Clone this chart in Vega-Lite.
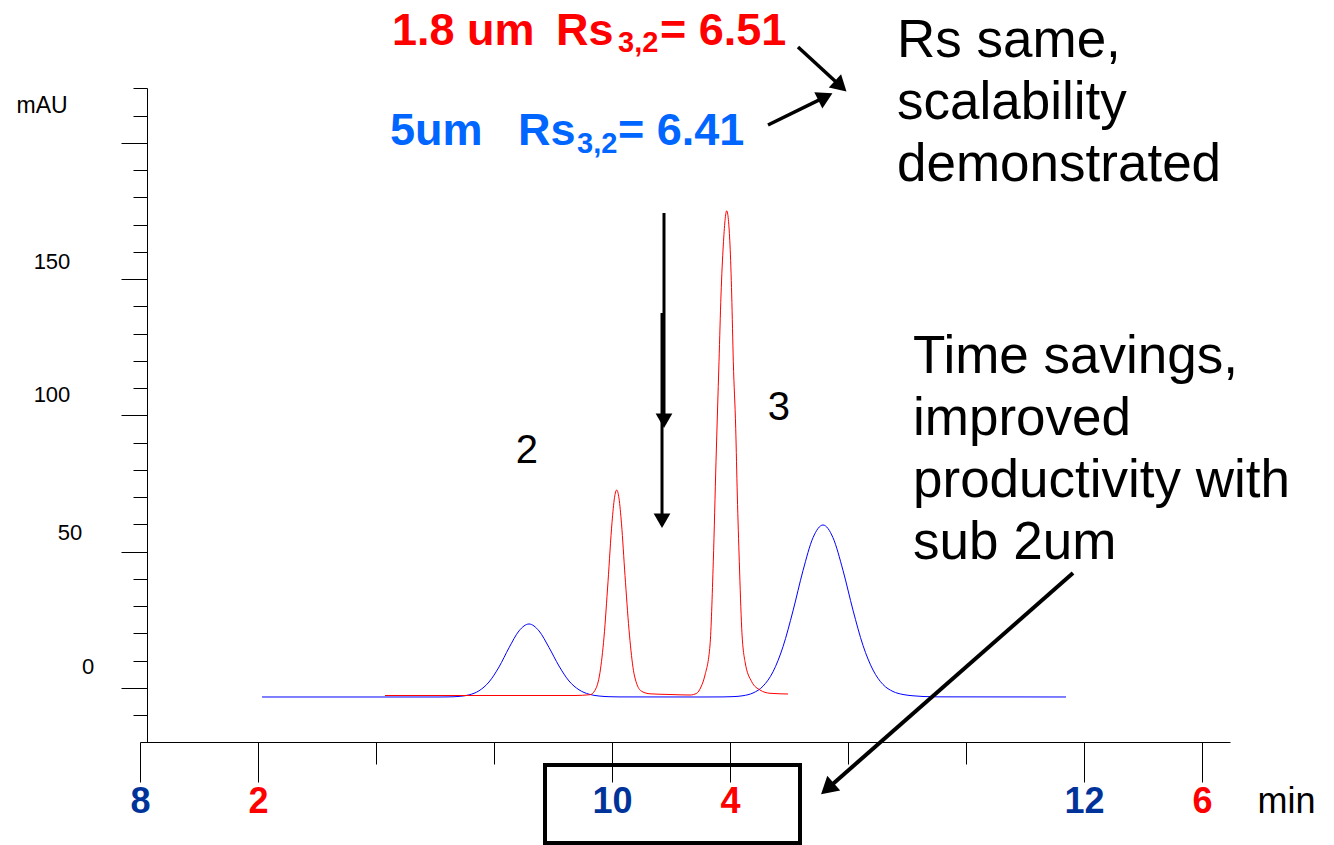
{
  "$schema": "https://vega.github.io/schema/vega-lite/v6.json",
  "width": 1090,
  "height": 654,
  "autosize": {"type": "none"},
  "padding": {"left": 140, "top": 88, "right": 104, "bottom": 103},
  "background": "white",
  "config": {"view": {"stroke": null}, "font": "Liberation Sans"},
  "datasets": {
    "traces": [
      {"trace": "5um", "t": 8.5169, "v": -3.30}, {"trace": "5um", "t": 9.2712, "v": -3.30}, {"trace": "5um", "t": 9.3093, "v": -3.26},
      {"trace": "5um", "t": 9.3517, "v": -3.09}, {"trace": "5um", "t": 9.3941, "v": -2.53}, {"trace": "5um", "t": 9.4364, "v": -1.03},
      {"trace": "5um", "t": 9.4788, "v": 2.20}, {"trace": "5um", "t": 9.5212, "v": 7.71}, {"trace": "5um", "t": 9.5636, "v": 14.75},
      {"trace": "5um", "t": 9.6059, "v": 20.95}, {"trace": "5um", "t": 9.6483, "v": 23.49}, {"trace": "5um", "t": 9.6907, "v": 20.95},
      {"trace": "5um", "t": 9.7331, "v": 14.86}, {"trace": "5um", "t": 9.7754, "v": 8.07}, {"trace": "5um", "t": 9.8178, "v": 2.57},
      {"trace": "5um", "t": 9.8602, "v": -0.66}, {"trace": "5um", "t": 9.9025, "v": -2.28}, {"trace": "5um", "t": 9.9449, "v": -2.94},
      {"trace": "5um", "t": 9.9873, "v": -3.19}, {"trace": "5um", "t": 10.0297, "v": -3.27}, {"trace": "5um", "t": 10.3729, "v": -3.30},
      {"trace": "5um", "t": 10.4703, "v": -3.27}, {"trace": "5um", "t": 10.5127, "v": -3.17}, {"trace": "5um", "t": 10.5551, "v": -2.83},
      {"trace": "5um", "t": 10.5975, "v": -1.83}, {"trace": "5um", "t": 10.6398, "v": 0.66}, {"trace": "5um", "t": 10.6822, "v": 5.94},
      {"trace": "5um", "t": 10.7246, "v": 15.16}, {"trace": "5um", "t": 10.7669, "v": 28.29}, {"trace": "5um", "t": 10.8093, "v": 43.08},
      {"trace": "5um", "t": 10.8517, "v": 55.16}, {"trace": "5um", "t": 10.8941, "v": 59.82}, {"trace": "5um", "t": 10.9364, "v": 55.16},
      {"trace": "5um", "t": 10.9788, "v": 43.16}, {"trace": "5um", "t": 11.0212, "v": 28.55}, {"trace": "5um", "t": 11.0636, "v": 15.60},
      {"trace": "5um", "t": 11.1059, "v": 6.61}, {"trace": "5um", "t": 11.1483, "v": 1.28}, {"trace": "5um", "t": 11.1907, "v": -1.28},
      {"trace": "5um", "t": 11.2331, "v": -2.39}, {"trace": "5um", "t": 11.2754, "v": -2.86}, {"trace": "5um", "t": 11.3178, "v": -3.12},
      {"trace": "5um", "t": 11.3814, "v": -3.25}, {"trace": "5um", "t": 11.9237, "v": -3.30},
      {"trace": "1.8um", "t": 9.0381, "v": -2.75}, {"trace": "1.8um", "t": 9.8432, "v": -2.75}, {"trace": "1.8um", "t": 9.9068, "v": -2.46},
      {"trace": "1.8um", "t": 9.9280, "v": -0.84}, {"trace": "1.8um", "t": 9.9492, "v": 5.76}, {"trace": "1.8um", "t": 9.9661, "v": 18.64},
      {"trace": "1.8um", "t": 9.9831, "v": 39.01}, {"trace": "1.8um", "t": 10.0000, "v": 60.70}, {"trace": "1.8um", "t": 10.0106, "v": 69.87},
      {"trace": "1.8um", "t": 10.0199, "v": 72.66}, {"trace": "1.8um", "t": 10.0297, "v": 69.58}, {"trace": "1.8um", "t": 10.0403, "v": 60.26},
      {"trace": "1.8um", "t": 10.0551, "v": 41.28}, {"trace": "1.8um", "t": 10.0720, "v": 21.47}, {"trace": "1.8um", "t": 10.0890, "v": 7.52},
      {"trace": "1.8um", "t": 10.1059, "v": 1.28}, {"trace": "1.8um", "t": 10.1271, "v": -1.28}, {"trace": "1.8um", "t": 10.1610, "v": -2.13},
      {"trace": "1.8um", "t": 10.2458, "v": -2.39}, {"trace": "1.8um", "t": 10.3305, "v": -2.57}, {"trace": "1.8um", "t": 10.3589, "v": -1.94},
      {"trace": "1.8um", "t": 10.3771, "v": 0.40}, {"trace": "1.8um", "t": 10.3941, "v": 4.77}, {"trace": "1.8um", "t": 10.4153, "v": 15.78},
      {"trace": "1.8um", "t": 10.4292, "v": 46.35}, {"trace": "1.8um", "t": 10.4407, "v": 83.05}, {"trace": "1.8um", "t": 10.4534, "v": 119.74},
      {"trace": "1.8um", "t": 10.4619, "v": 144.22}, {"trace": "1.8um", "t": 10.4716, "v": 162.57}, {"trace": "1.8um", "t": 10.4860, "v": 175.12},
      {"trace": "1.8um", "t": 10.5000, "v": 162.57}, {"trace": "1.8um", "t": 10.5072, "v": 144.22}, {"trace": "1.8um", "t": 10.5140, "v": 119.74},
      {"trace": "1.8um", "t": 10.5242, "v": 95.30}, {"trace": "1.8um", "t": 10.5309, "v": 70.83}, {"trace": "1.8um", "t": 10.5394, "v": 46.35},
      {"trace": "1.8um", "t": 10.5496, "v": 21.91}, {"trace": "1.8um", "t": 10.5636, "v": 9.65}, {"trace": "1.8um", "t": 10.5919, "v": 2.31},
      {"trace": "1.8um", "t": 10.6271, "v": -0.73}, {"trace": "1.8um", "t": 10.6695, "v": -1.94}, {"trace": "1.8um", "t": 10.7458, "v": -2.20}
    ],
    "ylab": [
      {"t": 7.7797, "v": 7.71, "text": "0"},
      {"t": 7.7034, "v": 56.88, "text": "50"},
      {"t": 7.6271, "v": 107.52, "text": "100"},
      {"t": 7.6271, "v": 156.33, "text": "150"}
    ],
    "notes": [
      {"role": "red", "t": 9.0678, "v": 235.96, "text": "1.8 um"},
      {"role": "red", "t": 9.7627, "v": 235.96, "text": "Rs"},
      {"role": "redsub", "t": 10.0254, "v": 233.39, "text": "3,2"},
      {"role": "red", "t": 10.2034, "v": 235.96, "text": "= 6.51"},
      {"role": "blue", "t": 9.0593, "v": 199.27, "text": "5um"},
      {"role": "blue", "t": 9.6017, "v": 199.27, "text": "Rs"},
      {"role": "bluesub", "t": 9.8517, "v": 196.33, "text": "3,2"},
      {"role": "blue", "t": 10.0254, "v": 199.27, "text": "= 6.41"},
      {"role": "big", "t": 11.2076, "v": 231.56, "text": "Rs same,\nscalability\ndemonstrated"},
      {"role": "big", "t": 11.2754, "v": 115.60, "text": "Time savings,\nimproved\nproductivity with\nsub 2um"},
      {"role": "peak", "t": 9.6398, "v": 82.57, "text": "2"},
      {"role": "peak", "t": 10.7076, "v": 98.35, "text": "3"}
    ],
    "arrows": [
      {"kind": "medium", "t1": 10.7881, "v1": 235.23, "t2": 10.9691, "v2": 220.84, "angle": 132.6},
      {"kind": "medium", "t1": 10.6610, "v1": 206.61, "t2": 10.9042, "v2": 216.95, "angle": 63.8},
      {"kind": "small", "t1": 10.2203, "v1": 174.31, "t2": 10.2203, "v2": 98.06, "angle": 180},
      {"kind": "small", "t1": 10.2119, "v1": 137.61, "t2": 10.2119, "v2": 61.36, "angle": 180},
      {"kind": "large", "t1": 11.9534, "v1": 42.20, "t2": 10.9127, "v2": -36.97, "angle": 228.7}
    ],
    "box": [
      {"t1": 9.7161, "t2": 10.7966, "v1": -28.26, "v2": -56.88}
    ]
  },
  "layer": [
    {
      "data": {"name": "traces"},
      "transform": [{"filter": "datum.trace === '5um'"}],
      "mark": {"type": "line", "color": "#0000FF", "strokeWidth": 1, "interpolate": "monotone"},
      "encoding": {
        "x": {
          "field": "t", "type": "quantitative",
          "scale": {"domain": [8, 12.6186], "nice": false, "zero": false},
          "axis": {
            "values": [8, 8.5, 9, 9.5, 10, 10.5, 11, 11.5, 12, 12.5],
            "tickCount": 100,
            "grid": false,
            "domainColor": "black", "domainWidth": 1,
            "tickColor": "black", "tickWidth": 1,
            "tickSize": {"condition": {"test": "indexof([8, 8.5, 10, 10.5, 12, 12.5], datum.value) >= 0", "value": 40}, "value": 22},
            "labelExpr": "datum.value % 1 === 0 ? (datum.value % 2 === 0 ? format(datum.value, 'd') : '') : ((datum.value - 6.5) % 2 === 0 ? format(datum.value - 6.5, 'd') : '')",
            "labelColor": {"condition": {"test": "datum.value % 1 === 0", "value": "#003399"}, "value": "#FF0000"},
            "labelFont": "Liberation Sans", "labelFontSize": 36, "labelFontWeight": "bold",
            "labelPadding": 30, "labelBaseline": "alphabetic",
            "labelOverlap": false, "labelFlush": false, "labelBound": false,
            "title": "min", "titleFont": "Liberation Sans", "titleFontSize": 36, "titleFontWeight": "normal", "titleColor": "black",
            "titleX": 1117, "titleY": 70, "titleAlign": "left", "titleBaseline": "alphabetic", "titleAnchor": null
          }
        },
        "y": {
          "field": "v", "type": "quantitative",
          "scale": {"domain": [-19.817, 220.183], "nice": false, "zero": false},
          "axis": {
            "values": [-10, 0, 10, 20, 30, 40, 50, 60, 70, 80, 90, 100, 110, 120, 130, 140, 150, 160, 170, 180, 190, 200, 210, 220],
            "tickCount": 100,
            "offset": -7,
            "grid": false,
            "labels": false,
            "domainColor": "black", "domainWidth": 1,
            "tickColor": "black", "tickWidth": 1,
            "tickSize": {"condition": {"test": "datum.value % 50 === 0", "value": 26}, "value": 14},
            "title": "mAU", "titleAngle": 0, "titleFont": "Liberation Sans", "titleFontSize": 23, "titleFontWeight": "normal", "titleColor": "black",
            "titleX": -131, "titleY": 24, "titleAlign": "left", "titleBaseline": "alphabetic", "titleAnchor": null
          }
        }
      }
    },
    {
      "data": {"name": "traces"},
      "transform": [{"filter": "datum.trace === '1.8um'"}],
      "mark": {"type": "line", "color": "#FF0000", "strokeWidth": 1, "interpolate": "monotone"},
      "encoding": {
        "x": {"field": "t", "type": "quantitative"},
        "y": {"field": "v", "type": "quantitative"}
      }
    },
    {
      "data": {"name": "ylab"},
      "mark": {"type": "text", "font": "Liberation Sans", "fontSize": 22, "color": "black", "align": "center", "baseline": "middle"},
      "encoding": {
        "x": {"field": "t", "type": "quantitative"},
        "y": {"field": "v", "type": "quantitative"},
        "text": {"field": "text"}
      }
    },
    {
      "data": {"name": "notes"},
      "transform": [{"filter": "datum.role === 'red'"}],
      "mark": {"type": "text", "font": "Liberation Sans", "fontSize": 45, "fontWeight": "bold", "color": "#FF0000", "align": "left", "baseline": "alphabetic"},
      "encoding": {
        "x": {"field": "t", "type": "quantitative"},
        "y": {"field": "v", "type": "quantitative"},
        "text": {"field": "text"}
      }
    },
    {
      "data": {"name": "notes"},
      "transform": [{"filter": "datum.role === 'redsub'"}],
      "mark": {"type": "text", "font": "Liberation Sans", "fontSize": 29, "fontWeight": "bold", "color": "#FF0000", "align": "left", "baseline": "alphabetic"},
      "encoding": {
        "x": {"field": "t", "type": "quantitative"},
        "y": {"field": "v", "type": "quantitative"},
        "text": {"field": "text"}
      }
    },
    {
      "data": {"name": "notes"},
      "transform": [{"filter": "datum.role === 'blue'"}],
      "mark": {"type": "text", "font": "Liberation Sans", "fontSize": 45, "fontWeight": "bold", "color": "#0066FF", "align": "left", "baseline": "alphabetic"},
      "encoding": {
        "x": {"field": "t", "type": "quantitative"},
        "y": {"field": "v", "type": "quantitative"},
        "text": {"field": "text"}
      }
    },
    {
      "data": {"name": "notes"},
      "transform": [{"filter": "datum.role === 'bluesub'"}],
      "mark": {"type": "text", "font": "Liberation Sans", "fontSize": 29, "fontWeight": "bold", "color": "#0066FF", "align": "left", "baseline": "alphabetic"},
      "encoding": {
        "x": {"field": "t", "type": "quantitative"},
        "y": {"field": "v", "type": "quantitative"},
        "text": {"field": "text"}
      }
    },
    {
      "data": {"name": "notes"},
      "transform": [{"filter": "datum.role === 'big'"}],
      "mark": {"type": "text", "font": "Liberation Sans", "fontSize": 53, "color": "black", "align": "left", "baseline": "alphabetic", "lineBreak": "\n", "lineHeight": 62},
      "encoding": {
        "x": {"field": "t", "type": "quantitative"},
        "y": {"field": "v", "type": "quantitative"},
        "text": {"field": "text"}
      }
    },
    {
      "data": {"name": "notes"},
      "transform": [{"filter": "datum.role === 'peak'"}],
      "mark": {"type": "text", "font": "Liberation Sans", "fontSize": 40, "color": "black", "align": "center", "baseline": "alphabetic"},
      "encoding": {
        "x": {"field": "t", "type": "quantitative"},
        "y": {"field": "v", "type": "quantitative"},
        "text": {"field": "text"}
      }
    },
    {
      "data": {"name": "arrows"},
      "mark": {"type": "rule", "color": "black"},
      "encoding": {
        "x": {"field": "t1", "type": "quantitative"},
        "y": {"field": "v1", "type": "quantitative"},
        "x2": {"field": "t2"},
        "y2": {"field": "v2"},
        "strokeWidth": {"field": "kind", "type": "nominal", "scale": {"domain": ["small", "medium", "large"], "range": [3, 4, 5]}, "legend": null}
      }
    },
    {
      "data": {"name": "arrows"},
      "mark": {"type": "point", "shape": "triangle-up", "filled": true, "color": "black", "opacity": 1},
      "encoding": {
        "x": {"field": "t2", "type": "quantitative"},
        "y": {"field": "v2", "type": "quantitative"},
        "angle": {"field": "angle", "type": "quantitative", "scale": null},
        "size": {"field": "kind", "type": "nominal", "scale": {"domain": ["small", "medium", "large"], "range": [280, 380, 830]}, "legend": null}
      }
    },
    {
      "data": {"name": "box"},
      "mark": {"type": "rect", "fillOpacity": 0, "stroke": "black", "strokeWidth": 4},
      "encoding": {
        "x": {"field": "t1", "type": "quantitative"},
        "x2": {"field": "t2"},
        "y": {"field": "v1", "type": "quantitative"},
        "y2": {"field": "v2"}
      }
    }
  ]
}
